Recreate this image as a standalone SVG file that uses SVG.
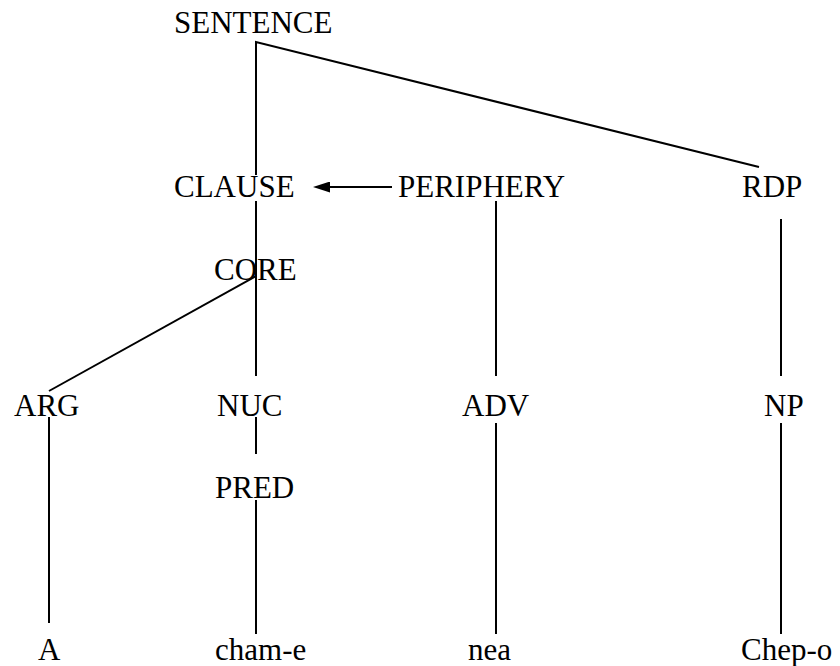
<svg xmlns="http://www.w3.org/2000/svg" width="840" height="666" viewBox="0 0 840 666">
  <style>
    .lbl { font-family: "Liberation Serif", "Times New Roman", serif; font-size: 31px; fill: #000; }
    .edge { stroke: #000; stroke-width: 2; fill: none; }
  </style>
  <defs>
    <marker id="arrowhead" viewBox="0 0 17 11" refX="0" refY="5.5" markerWidth="17" markerHeight="11" markerUnits="userSpaceOnUse" orient="auto-start-reverse">
      <path d="M0,0 L17,5.5 L0,11 Z" fill="#000"/>
    </marker>
  </defs>
  <rect width="840" height="666" fill="#fff"/>

  <g id="connectors">
    <!-- SENTENCE branches -->
    <polyline class="edge" points="256,175 256,42 759,167"/>
    <!-- CLAUSE / CORE / NUC spine -->
    <line class="edge" x1="256" y1="201" x2="256" y2="376"/>
    <!-- CORE to ARG -->
    <line class="edge" x1="256" y1="276" x2="49" y2="391"/>
    <!-- NUC to PRED -->
    <line class="edge" x1="256" y1="417" x2="256" y2="454"/>
    <!-- PRED to word -->
    <line class="edge" x1="256" y1="500" x2="256" y2="634"/>
    <!-- ARG to word -->
    <line class="edge" x1="49" y1="417" x2="49" y2="623"/>
    <!-- PERIPHERY to ADV to word -->
    <line class="edge" x1="496" y1="201" x2="496" y2="376"/>
    <line class="edge" x1="496" y1="423" x2="496" y2="634"/>
    <!-- RDP to NP to word -->
    <line class="edge" x1="781" y1="219" x2="781" y2="376"/>
    <line class="edge" x1="781" y1="423" x2="781" y2="634"/>
    <!-- PERIPHERY modifies CLAUSE -->
    <line class="edge" x1="392" y1="187" x2="330" y2="187" marker-end="url(#arrowhead)"/>
  </g>

  <g id="sentence"><text class="lbl" x="174" y="33">SENTENCE</text></g>
  <g id="clause"><text class="lbl" x="174" y="197">CLAUSE</text></g>
  <g id="periphery"><text class="lbl" x="398" y="197">PERIPHERY</text></g>
  <g id="rdp"><text class="lbl" x="742" y="197">RDP</text></g>
  <g id="core"><text class="lbl" x="214" y="280">CORE</text></g>
  <g id="arg"><text class="lbl" x="14" y="416">ARG</text></g>
  <g id="nuc"><text class="lbl" x="217" y="416">NUC</text></g>
  <g id="adv"><text class="lbl" x="462" y="416">ADV</text></g>
  <g id="np"><text class="lbl" x="764" y="416">NP</text></g>
  <g id="pred"><text class="lbl" x="215" y="498">PRED</text></g>
  <g id="word-a"><text class="lbl" x="38" y="660">A</text></g>
  <g id="word-chame"><text class="lbl" x="215" y="660">cham-e</text></g>
  <g id="word-nea"><text class="lbl" x="468" y="660">nea</text></g>
  <g id="word-chepo"><text class="lbl" x="741" y="660">Chep-o</text></g>
</svg>
